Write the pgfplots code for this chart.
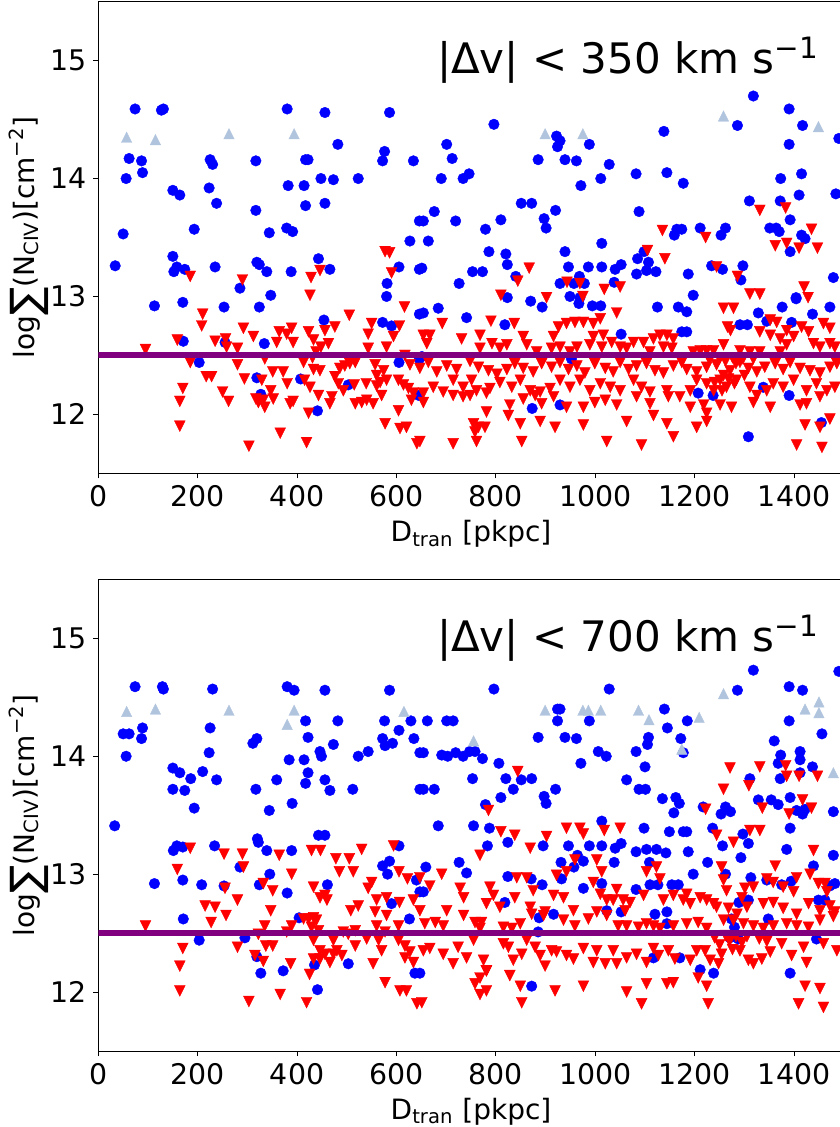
\documentclass[border=0pt]{standalone}
\usepackage{fontspec}
\setmainfont{DejaVu Sans}
\usepackage{pgfplots}
\pgfplotsset{compat=1.18}
\definecolor{mblue}{RGB}{0,0,255}
\definecolor{mred}{RGB}{255,0,0}
\definecolor{lsb}{RGB}{176,196,222}
\definecolor{mpurple}{RGB}{128,0,128}
\pgfdeclareplotmark{tridown}{%
 \pgfpathmoveto{\pgfqpoint{-\pgfplotmarksize}{\pgfplotmarksize}}%
 \pgfpathlineto{\pgfqpoint{\pgfplotmarksize}{\pgfplotmarksize}}%
 \pgfpathlineto{\pgfqpoint{0pt}{-\pgfplotmarksize}}%
 \pgfpathclose\pgfusepathqfillstroke}
\pgfdeclareplotmark{triup}{%
 \pgfpathmoveto{\pgfqpoint{-\pgfplotmarksize}{-\pgfplotmarksize}}%
 \pgfpathlineto{\pgfqpoint{\pgfplotmarksize}{-\pgfplotmarksize}}%
 \pgfpathlineto{\pgfqpoint{0pt}{\pgfplotmarksize}}%
 \pgfpathclose\pgfusepathqfillstroke}
\pgfplotsset{
 panel/.style={
  scale only axis, width=372.75pt, height=235.8pt,
  xmin=0, xmax=1500, ymin=11.5, ymax=15.5,
  xtick={0,200,...,1400}, ytick={12,13,14,15},
  tick align=outside, tick pos=left, major tick length=2.5pt,
  /pgf/number format/assume math mode=true,
  /pgf/number format/1000 sep={},
  ticklabel style={font=\fontsize{14.2}{17}\selectfont},
  label style={font=\fontsize{14}{17}\selectfont},
  xlabel={D\textsubscript{tran} [pkpc]},
  ylabel={log\raisebox{-0.22em}{\fontsize{21}{21}\selectfont ∑}(N\textsubscript{CIV})[cm\textsuperscript{−2}]},
  ylabel shift=-6pt,
  axis line style={line width=0.5pt},
  every tick/.style={black, line width=0.5pt},
  clip marker paths=true,
 },
 bdot/.style={only marks, mark=*, mark size=2.65pt, color=mblue, mark options={fill=mblue, draw=mblue, line width=0.2pt}},
 rtri/.style={only marks, mark=tridown, mark size=2.7pt, color=mred, mark options={fill=mred, draw=mred, line width=0.2pt}},
 ltri/.style={only marks, mark=triup, mark size=2.6pt, color=lsb, mark options={fill=lsb, draw=lsb, line width=0.2pt}},
 pline/.style={mpurple, line width=3pt},
}
\begin{document}
\begin{tikzpicture}
%================ TOP PANEL =================
\begin{axis}[panel, at={(0pt,0pt)}, anchor=south west]
\addplot[bdot] coordinates {
(34,13.26)(50,13.53)(56,14.0)(62,14.17)(74,14.59)(87,14.15)(89,14.05)(127,14.58)(131,14.59)(150,13.90)(164,13.86)(193,13.57)(150,13.34)(158,13.25)(152,13.21)(174,13.23)(170,12.95)(225,14.16)(230,14.12)(223,13.92)(238,13.79)(235,13.25)(285,13.07)(317,14.15)(317,13.73)(319,13.29)(324,13.27)(339,13.21)(344,13.54)(347,13.01)(380,14.59)(382,13.94)(379,13.58)(391,13.55)(388,13.21)(414,13.94)(417,14.16)(422,14.16)(417,13.77)(443,13.32)(448,14.0)(456,14.56)(456,13.79)(466,13.23)(473,13.99)(482,14.29)(523,14.0)(572,14.15)(576,14.23)(586,14.56)(581,13.11)(580,13.0)(605,13.25)(627,13.47)(634,14.15)(646,13.64)(646,13.23)
(796,14.46)(701,14.29)(712,14.17)(690,14.0)(734,14.0)(746,14.04)(654,13.64)(676,13.72)(719,13.64)(664,13.47)(651,13.24)(779,13.57)(810,13.65)(851,13.79)(872,13.79)(786,13.38)(820,13.36)(823,13.27)(753,13.21)(773,13.21)(726,13.11)(840,13.17)(897,13.66)(901,13.58)(920,13.73)(885,14.16)(922,14.36)(929,14.32)(924,14.27)(939,14.16)(962,14.15)(988,14.29)(971,13.94)(1011,14.0)(1028,14.12)(939,13.38)(946,13.25)(986,13.25)(1013,13.25)(1013,13.45)(1040,13.23)(1052,13.27)(929,13.11)(957,13.11)(978,13.11)(968,13.17)(1038,13.12)(949,13.0)(969,12.99)(1082,14.04)(1088,13.72)(1138,14.40)(1144,14.05)(1177,13.96)(1085,13.32)(1098,13.38)(1107,13.29)(1103,13.22)(1122,13.21)(1083,13.19)(1159,13.52)(1164,13.57)(1174,13.57)(1211,13.58)(1253,13.52)(1262,13.58)(1187,13.19)(1197,13.01)(1234,13.26)(1256,13.23)(1297,13.26)(1293,13.14)(1318,14.70)(1286,14.45)(1390,14.59)(1417,14.45)(1390,14.29)(1490,14.34)(1373,14.0)(1415,14.04)(1410,13.86)(1484,13.87)(1310,13.81)(1372,13.81)(1392,13.65)(1351,13.58)(1364,13.58)(1370,13.55)(1415,13.52)(1422,13.49)(1392,13.38)(1479,13.16)(1404,12.99)
(113,12.92)(171,12.62)(203,12.44)(253,12.91)(255,12.61)(324,12.91)(334,12.60)(319,12.31)(327,12.17)(407,12.30)(441,12.03)(454,12.80)(503,12.25)(572,12.78)(590,12.75)(605,12.44)(646,12.85)(646,12.47)
(654,12.86)(684,12.90)(741,12.82)(823,12.99)(818,12.76)(870,12.96)(893,12.91)(967,12.94)(994,12.92)(1011,12.92)(1052,12.68)(952,12.47)(873,12.05)(929,12.08)(1125,12.91)(1167,12.91)(1184,12.87)(1174,12.70)(1184,12.70)(1291,12.76)(1306,12.76)(1328,12.86)(1345,12.79)(1376,12.91)(1404,12.98)(1395,12.78)(1437,12.85)(1472,12.91)(1207,12.18)(1237,12.16)(1338,12.23)(1390,12.16)(1308,11.81)(1455,11.93)(651,12.49)(645,12.16)
};
\addplot[rtri] coordinates {
(185,13.17)(290,13.14)(428,13.16)(446,13.22)(426,13.01)(577,13.38)(586,13.37)(590,13.20)
(1331,13.73)(1383,13.75)(1135,13.56)(1222,13.50)(1435,13.57)(1362,13.43)(1385,13.45)(1410,13.41)(1447,13.41)(1105,13.39)(1140,13.32)(1244,13.25)(1286,13.17)(1420,13.08)(1311,13.02)(1331,13.02)(1428,12.99)(867,13.24)(844,13.13)(810,13.01)(902,12.99)(943,13.12)(969,13.11)(975,13.0)(1018,13.06)(1050,13.08)
(95,12.55)(164,11.90)(164,12.11)(170,12.22)(159,12.63)(185,12.44)(210,12.85)(208,12.75)(217,12.32)(228,12.32)(235,12.62)(256,12.64)(258,12.57)(250,12.19)(262,12.11)(280,12.56)(280,12.42)(292,12.73)(294,12.30)(312,12.66)(303,11.73)(317,12.13)(322,12.10)(335,12.06)(332,12.12)(352,12.13)(329,12.29)(335,12.47)(347,12.20)(351,12.36)(359,12.61)(364,12.70)(379,12.68)(389,12.73)(392,12.61)(372,12.36)(380,12.26)(366,11.84)(386,12.09)(392,12.11)(413,12.44)(415,12.29)(423,12.70)(433,12.63)(438,12.53)(431,12.48)(448,12.57)(463,12.60)(426,12.23)(443,12.16)(423,12.01)(419,11.76)(433,12.38)(446,12.37)(456,12.71)(476,12.74)(476,12.32)(483,12.26)(493,12.20)(470,12.15)(466,12.09)(486,12.39)(496,12.41)(506,12.43)(517,12.44)(505,12.84)(515,12.25)(517,12.09)(530,12.10)(540,12.12)(553,12.09)(539,12.26)(543,12.56)(543,12.68)(550,12.77)(557,12.42)(560,12.33)(567,12.27)(560,12.24)(570,12.16)(580,12.29)(574,12.37)(580,12.57)(594,12.66)(577,11.92)(604,12.03)(607,11.88)(620,11.89)(606,12.75)(616,12.91)(617,12.50)(627,12.42)(604,12.29)(614,12.25)(624,12.22)(634,12.18)(630,12.12)(641,11.75)
(1043,12.86)(692,12.77)(790,12.79)(837,12.77)(1258,12.90)(1278,12.90)(1266,12.74)(1272,12.71)(1352,12.80)(1365,12.78)(1459,12.77)(1472,12.73)(1331,12.70)(1352,12.67)(1372,12.64)(1385,12.71)(1399,12.66)(1415,12.74)(1429,12.70)(1439,12.60)(1452,12.57)(1472,12.60)(1482,12.57)(667,12.67)(661,12.60)(654,12.67)(731,12.64)(768,12.67)(768,12.56)(792,12.60)(808,12.56)(822,12.59)(855,12.66)(882,12.53)(862,12.59)(916,12.66)(926,12.74)(942,12.77)(959,12.78)(976,12.78)(912,12.56)(929,12.57)(949,12.53)(963,12.57)(996,12.77)(1010,12.81)(1016,12.67)(996,12.66)(989,12.59)(1013,12.57)(1033,12.61)(1050,12.57)(1063,12.56)(1077,12.61)(1097,12.61)(1117,12.64)(1130,12.67)(1144,12.67)(1157,12.64)(1110,12.53)(1137,12.57)(1154,12.56)(1197,12.53)(1211,12.54)(1224,12.54)(1238,12.54)(1258,12.59)(1291,12.54)(1311,12.53)(1331,12.53)(1385,12.59)(1372,12.53)
(647,12.39)(664,12.44)(681,12.36)(701,12.41)(721,12.38)(748,12.45)(765,12.40)(785,12.37)(802,12.34)(822,12.38)(838,12.43)(855,12.39)(875,12.36)(892,12.43)(912,12.40)(929,12.44)(946,12.38)(963,12.41)(979,12.35)(999,12.43)(1020,12.39)(1036,12.36)(1050,12.44)(1067,12.38)(1083,12.41)(1103,12.43)(1120,12.37)(1137,12.35)(1157,12.41)(1174,12.44)(1184,12.38)(1204,12.36)(1224,12.40)(1244,12.42)(1258,12.33)(1271,12.37)(1291,12.44)(1308,12.39)(1325,12.36)(1341,12.40)(1362,12.43)(1378,12.38)(1392,12.44)(1412,12.39)(1432,12.37)(1452,12.35)(1472,12.40)(1486,12.43)
(654,12.18)(674,12.23)(694,12.19)(714,12.29)(734,12.23)(751,12.29)(761,12.20)(788,12.22)(808,12.27)(832,12.23)(849,12.29)(869,12.20)(889,12.19)(909,12.22)(929,12.29)(949,12.23)(969,12.29)(989,12.20)(1010,12.26)(1030,12.23)(1050,12.20)(1077,12.29)(1093,12.23)(1110,12.19)(1144,12.20)(1170,12.15)(1191,12.20)(1204,12.29)(1224,12.26)(1238,12.20)(1251,12.29)(1264,12.23)(1284,12.29)(1311,12.23)(1325,12.16)(1345,12.20)(1358,12.26)(1378,12.23)(1399,12.29)(1425,12.20)(1445,12.26)(1466,12.20)(1482,12.23)
(654,12.10)(714,12.16)(734,12.15)(748,12.16)(781,12.18)(781,12.02)(828,12.08)(855,12.13)(879,12.16)(892,12.09)(916,12.15)(942,12.06)(976,12.06)(999,12.10)(1020,12.12)(1043,12.08)(1083,12.15)(1110,12.09)(1117,11.99)(1147,12.15)(1191,12.06)(1218,12.08)(1224,12.01)(1251,12.08)(1274,12.06)(1318,12.10)(1352,12.06)(1412,12.08)(1425,12.09)(1452,12.15)
(755,11.92)(765,11.89)(778,11.89)(758,11.85)(761,11.77)(849,11.92)(825,11.99)(852,11.77)(889,11.94)(919,11.89)(976,11.91)(1023,11.77)(1063,11.94)(1093,11.74)(1144,11.92)(1157,11.81)(1204,11.89)(1224,11.94)(1405,11.74)(1422,11.91)(1452,11.89)(1456,11.72)(1472,11.96)(714,11.75)(647,11.77)
(1250,12.47)(1262,12.45)(1276,12.48)(1283,12.43)(1297,12.47)(1268,12.30)(1280,12.26)(1300,12.33)(1318,12.47)(1240,12.27)(1255,12.20)(1230,12.46)
};
\addplot[ltri] coordinates {(57,14.35)(115,14.33)(263,14.38)(394,14.38)(899,14.38)(975,14.38)(1258,14.53)(1449,14.44)};
\addplot[pline] coordinates {(0,12.5)(1500,12.5)};
\node[anchor=base, font=\fontsize{21}{25}\selectfont] at (axis cs:1066,14.89) {|Δv| < 350 km s\textsuperscript{−1}};
\end{axis}
%================ BOTTOM PANEL =================
\begin{axis}[panel, at={(0pt,-288.85pt)}, anchor=south west]
\addplot[bdot] coordinates {
(33,13.41)(50,14.19)(62,14.19)(56,14.0)(89,14.24)(87,14.15)(74,14.59)(129,14.59)(131,14.57)(150,13.90)(164,13.86)(186,13.81)(174,13.71)(150,13.72)(193,13.56)(210,13.87)(225,14.24)(223,14.03)(230,14.57)(238,13.80)(311,14.11)(319,14.15)(317,13.72)(344,13.54)(359,13.80)(380,14.59)(394,14.56)(384,13.97)(390,13.60)(417,14.30)(422,14.16)(414,13.97)(422,13.86)(417,13.77)(456,14.56)(446,14.04)(449,14.0)(456,13.80)(466,13.71)(473,14.10)(482,14.30)(523,14.0)(543,14.04)(512,13.72)(576,14.30)(572,14.15)(577,14.09)(592,14.11)(605,14.22)(586,14.56)(629,14.30)(635,14.15)(647,14.03)(647,13.72)(320,13.30)(443,13.33)(456,13.33)
(796,14.57)(1028,14.57)(662,14.30)(701,14.30)(714,14.30)(654,14.03)(691,14.01)(703,14.0)(719,14.03)(734,14.0)(747,14.04)(758,14.04)(773,13.98)(806,13.94)(753,13.81)(654,13.72)(676,13.72)(820,13.81)(851,13.80)(872,13.81)(835,13.72)(810,13.65)(779,13.59)(684,13.41)(755,13.41)(787,13.39)(897,13.66)(901,13.60)(920,13.72)(885,14.16)(924,14.40)(929,14.40)(924,14.30)(939,14.16)(962,14.15)(988,14.30)(971,13.94)(1006,14.04)(1022,14.0)(1013,13.45)(1063,13.80)(1082,14.04)(1100,13.91)(1107,14.16)(1105,14.10)(1088,13.72)(1101,13.72)(1098,13.39)(1139,14.40)(1145,14.24)(1172,14.15)(1177,14.03)(1185,14.30)(1135,13.64)(1162,13.65)(1169,13.60)(1158,13.52)(1149,13.36)(1177,13.36)(1184,13.36)(1217,13.57)(1236,13.39)(1253,13.51)(1262,13.57)(1272,13.53)(1297,13.34)(1318,14.73)(1286,14.56)(1390,14.59)(1417,14.56)(1390,14.30)(1456,14.19)(1490,14.72)(1360,14.13)(1373,14.01)(1368,13.94)(1412,14.04)(1412,13.97)(1437,13.91)(1372,13.81)(1412,13.86)(1311,13.81)(1328,13.63)(1354,13.63)(1368,13.59)(1392,13.65)(1405,13.54)(1417,13.51)(1422,13.55)(1479,13.53)(1392,13.39)
(113,12.92)(170,12.95)(171,12.62)(151,13.20)(158,13.24)(170,13.23)(203,12.44)(208,12.91)(234,13.24)(253,12.90)(285,13.06)(295,12.46)(324,12.91)(345,13.0)(319,12.30)(327,12.16)(322,13.27)(339,13.20)(380,12.84)(389,13.20)(372,12.18)(404,12.63)(435,12.23)(441,12.02)(461,12.91)(503,12.24)(572,13.07)(586,13.11)(582,13.0)(590,12.75)(605,13.24)(626,12.62)(640,12.95)(647,12.85)(637,12.16)
(659,13.06)(654,12.85)(726,13.10)(741,13.01)(783,13.24)(824,13.27)(824,12.98)(818,12.76)(871,12.96)(895,13.24)(893,12.91)(887,12.63)(916,12.66)(885,12.51)(931,13.10)(946,13.24)(964,13.16)(976,13.11)(988,13.24)(1013,13.24)(1038,13.10)(1052,13.26)(1040,13.22)(957,13.06)(932,12.96)(976,12.88)(1013,12.92)(1023,12.69)(1052,12.68)(1082,13.19)(1103,13.21)(1123,13.21)(1142,13.18)(1109,13.10)(1082,12.87)(1110,12.91)(1126,12.91)(1120,12.66)(1144,12.68)(1144,12.58)(1154,12.91)(1167,12.91)(1187,13.19)(1197,13.0)(1226,13.10)(1256,13.24)(1262,13.0)(1293,13.14)(1308,13.26)(1289,12.76)(1308,12.78)(1313,12.97)(1274,12.62)(1280,12.55)(1288,12.45)(1271,12.46)(1348,12.62)(1345,12.95)(1375,12.91)(1394,12.94)(1385,13.21)(1439,13.07)(1479,13.16)(1449,12.78)(1462,12.78)(1445,12.45)(1472,12.90)(1482,12.92)(1117,12.29)(1170,12.29)(1211,12.19)(1238,12.16)(1392,12.16)(872,12.05)(647,12.16)
};
\addplot[rtri] coordinates {
(844,13.87)(785,13.54)(810,13.36)(838,13.33)(902,13.32)(942,13.39)(969,13.39)(976,13.34)(1018,13.37)(1050,13.39)(1271,13.90)(1331,13.91)(1383,13.92)(1385,13.83)(1410,13.83)(1447,13.83)(1258,13.72)(1309,13.75)(1417,13.63)(1435,13.56)(1336,13.56)(1390,13.51)(1222,13.55)(1244,13.33)(1311,13.37)(1331,13.37)
(95,12.56)(164,12.01)(164,12.22)(170,12.37)(159,13.04)(185,13.22)(215,12.73)(235,12.72)(227,12.59)(257,12.65)(253,13.17)(255,12.88)(280,12.78)(280,12.38)(290,13.17)(292,13.06)(303,11.92)(315,12.31)(332,12.92)(347,12.69)(351,12.86)(335,12.56)(332,12.26)(351,12.39)(337,12.39)(322,12.49)(364,13.16)(389,13.0)(366,11.98)(387,12.24)(379,12.51)(389,12.56)(429,13.20)(447,13.20)(433,12.89)(446,12.80)(456,12.82)(460,12.78)(413,12.62)(423,12.62)(433,12.63)(439,12.61)(429,12.55)(443,12.52)(433,12.44)(446,12.35)(433,12.28)(446,12.28)(456,12.32)(425,12.15)(419,11.91)(466,12.25)(478,13.13)(485,13.02)(505,13.13)(513,13.02)(530,13.21)(473,12.44)(480,12.35)(490,12.31)(473,12.32)(493,12.51)(503,12.49)(517,12.52)(508,12.69)(523,12.73)(517,12.39)(540,12.45)(553,12.24)(543,12.88)(550,12.93)(557,12.68)(560,12.56)(564,12.44)(570,12.35)(577,12.51)(580,12.65)(560,12.78)(580,12.80)(577,12.08)(594,13.24)(605,13.02)(606,12.76)(622,12.96)(634,12.78)(604,12.56)(604,12.44)(617,12.39)(627,12.34)(617,12.29)(634,12.25)(607,12.01)(620,12.01)(641,11.90)(647,12.97)
(768,13.16)(869,13.22)(1278,13.27)(1439,13.20)
(691,13.0)(667,12.90)(728,12.88)(735,12.80)(788,12.89)(795,12.82)(781,12.75)(808,12.72)(842,12.97)(838,12.80)(862,12.97)(875,12.86)(869,12.72)(899,12.68)(922,12.99)(942,13.02)(916,12.82)(936,12.80)(959,13.12)(956,12.69)(996,12.93)(1003,13.12)(1013,13.02)(1010,12.83)(1023,12.78)(1043,12.87)(1036,12.78)(1056,12.78)(1070,12.76)(1060,12.69)(1103,13.02)(1123,13.06)(1130,12.96)(1097,12.82)(1137,12.78)(1157,12.82)(1184,12.83)(1177,12.78)(1191,12.75)(1211,12.80)(1224,12.78)(1238,12.75)(1254,13.06)(1258,12.95)(1264,12.86)(1244,12.72)(1268,12.71)(1285,12.66)(1301,12.88)(1295,12.80)(1305,12.72)(1318,12.89)(1338,12.75)(1358,12.76)(1345,12.96)(1362,13.07)(1358,12.93)(1378,12.89)(1399,12.85)(1405,12.97)(1378,12.71)(1405,12.66)(1432,13.0)(1429,12.75)(1449,12.92)(1462,12.92)(1466,12.85)(1472,12.73)(1482,12.68)(1452,12.69)
(647,12.69)(657,12.58)(678,12.59)(694,12.56)(701,12.69)(735,12.65)(758,12.59)(771,12.59)(768,12.54)(815,12.55)(832,12.54)(849,12.58)(872,12.66)(896,12.65)(936,12.61)(959,12.56)(986,12.62)(1003,12.68)(1023,12.65)(1046,12.56)(1063,12.56)(1087,12.55)(1103,12.58)(1117,12.56)(1130,12.54)(1157,12.56)(1184,12.58)(1207,12.59)(1224,12.54)(1258,12.61)(1278,12.61)(1298,12.58)(1318,12.56)(1338,12.54)(1358,12.56)(1385,12.58)(1405,12.56)(1429,12.55)(1452,12.61)(1479,12.64)
(654,12.35)(667,12.37)(694,12.32)(714,12.24)(724,12.38)(741,12.29)(755,12.44)(775,12.27)(781,12.18)(815,12.41)(825,12.38)(835,12.27)(852,12.32)(862,12.44)(879,12.38)(889,12.31)(899,12.22)(912,12.35)(922,12.34)(942,12.31)(956,12.28)(976,12.37)(996,12.25)(1003,12.35)(1020,12.24)(1036,12.35)(1043,12.24)(1063,12.29)(1083,12.32)(1103,12.25)(1117,12.37)(1127,12.31)(1147,12.35)(1160,12.28)(1191,12.27)(1204,12.35)(1221,12.35)(1231,12.27)(1248,12.24)(1254,12.32)(1291,12.35)(1308,12.27)(1318,12.24)(1335,12.28)(1352,12.34)(1375,12.41)(1395,12.31)(1419,12.38)(1425,12.25)(1459,12.41)(1486,12.35)
(768,12.12)(781,12.18)(768,11.98)(781,12.01)(758,12.07)(828,12.14)(849,12.05)(852,11.91)(919,12.01)(976,12.05)(1063,12.0)(1093,11.90)(1103,12.07)(1144,12.07)(1157,12.08)(1207,12.12)(1224,12.05)(1227,11.90)(1409,11.90)(1422,12.05)(1452,12.03)(1459,11.87)(651,11.91)
(1262,12.48)(1270,12.43)(1283,12.47)(1295,12.42)(1305,12.47)(1250,12.40)(1276,12.36)(1240,12.46)(1330,12.45)(1345,12.43)
};
\addplot[ltri] coordinates {(57,14.38)(115,14.40)(263,14.39)(380,14.27)(394,14.39)(615,14.38)(899,14.39)(975,14.39)(986,14.39)(1011,14.39)(1087,14.39)(1108,14.31)(1209,14.33)(1258,14.53)(1422,14.40)(1450,14.46)(1450,14.37)(755,14.13)(1174,14.06)(1479,13.86)};
\addplot[pline] coordinates {(0,12.5)(1500,12.5)};
\node[anchor=base, font=\fontsize{21}{25}\selectfont] at (axis cs:1066,14.89) {|Δv| < 700 km s\textsuperscript{−1}};
\end{axis}
\pgfresetboundingbox
\useasboundingbox (-49.15pt,-326.85pt) rectangle (370.35pt,236.65pt);
\end{tikzpicture}
\end{document}
